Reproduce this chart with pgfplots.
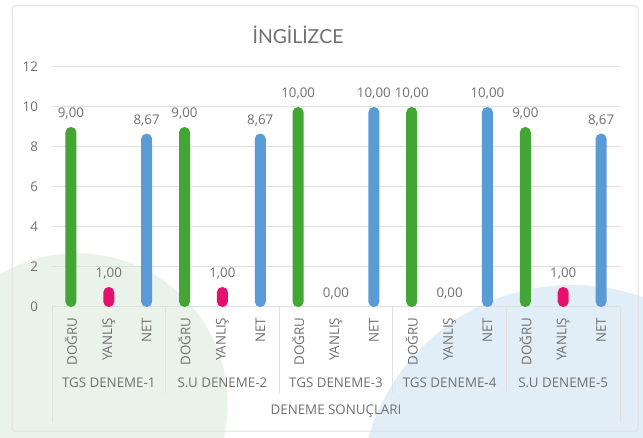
\documentclass[border=0pt]{standalone}
\usepackage{fontspec}
\setmainfont{Open Sans}
\newfontfamily\titlefont{Lato}
\usepackage{pgfplots}
\pgfplotsset{compat=1.18}

\definecolor{dgreen}{RGB}{66,165,52}
\definecolor{dpink}{RGB}{229,17,110}
\definecolor{dblue}{RGB}{91,155,213}
\definecolor{bggreen}{RGB}{233,243,234}
\definecolor{bgblue}{RGB}{225,238,248}
\definecolor{gridgray}{RGB}{224,224,224}
\definecolor{labgray}{RGB}{112,112,112}

\newcommand{\lbl}{\fontsize{10}{12}\selectfont}

\begin{document}
\begin{tikzpicture}
% picture is laid out in pixels of the 643x438 reference (1px = 0.75pt)
\useasboundingbox (0pt,0pt) rectangle (482.25pt,-328.5pt);
\begin{scope}[x=0.75pt,y=-0.75pt]
  \clip (0,0) rectangle (643,438);
  \fill[white] (0,0) rectangle (643,438);
  \fill[bggreen] (77,404) circle (113pt);
  \fill[bgblue] (572,497) circle (159pt);
  \draw[gridgray, line width=0.75pt, rounded corners=2pt] (12,6) rectangle (638,431);
\end{scope}

\begin{axis}[
  at={(39pt,-230.25pt)}, anchor=south west,
  scale only axis,
  width=426pt, height=180pt,
  xmin=-0.5, xmax=14.5,
  ymin=0, ymax=12,
  ytick={0,2,...,12},
  xtick={0,...,14},
  xticklabels={DOĞRU,YANLIŞ,NET,DOĞRU,YANLIŞ,NET,DOĞRU,YANLIŞ,NET,
               DOĞRU,YANLIŞ,NET,DOĞRU,YANLIŞ,NET},
  axis line style={draw=none},
  major tick length=0pt,
  ymajorgrids=true,
  grid style={gridgray, line width=0.75pt},
  tick label style={font=\lbl, text=labgray},
  xticklabel style={rotate=90, anchor=east, xshift=-4.5pt},
  yticklabel style={xshift=-7pt},
  /pgf/number format/assume math mode=true,
  ybar, bar width=8.25pt, bar shift=0pt,
  nodes near coords={\pgfmathprintnumber[use comma,fixed,fixed zerofill,precision=2]{\pgfplotspointmeta}},
  nodes near coords style={font=\lbl, text=labgray, yshift=2pt},
]
  % DOGRU
  \addplot[fill=dgreen, draw=none, rounded corners=4pt]
    coordinates {(0,9)(3,9)(6,10)(9,10)(12,9)};
  % YANLIS
  \addplot[fill=dpink, draw=none, rounded corners=4pt]
    coordinates {(1,1)(4,1)(13,1)};
  % YANLIS, zero values: label only
  \addplot[fill=none, draw=none]
    coordinates {(7,0)(10,0)};
  % NET
  \addplot[fill=dblue, draw=none, rounded corners=4pt]
    coordinates {(2,8.67)(5,8.67)(8,10)(11,10)(14,8.67)};
\end{axis}

\begin{scope}[x=0.75pt,y=-0.75pt]
  \foreach \x in {165.6,279.2,392.8,506.4}
    \draw[gridgray, line width=0.75pt] (\x,307) -- (\x,393);
  \draw[gridgray, line width=0.75pt] (52,307) -- (52,422);
  \draw[gridgray, line width=0.75pt] (620,307) -- (620,422);
  \foreach \x/\t in {108.8/TGS DENEME-1, 222.4/S.U DENEME-2,
                     336/TGS DENEME-3, 449.6/TGS DENEME-4, 563.2/S.U DENEME-5}
    \node[font=\lbl, text=labgray] at (\x,383) {\t};
  \node[font=\lbl, text=labgray] at (336,411) {DENEME SONUÇLARI};
  \node[font=\titlefont\fontsize{14.5}{17}\selectfont, text=labgray] at (298,35)
    {\mbox{İ}\mbox{N}\mbox{G}\mbox{İ}\mbox{L}\mbox{İ}\mbox{Z}\mbox{C}\mbox{E}};
\end{scope}
\end{tikzpicture}
\end{document}
